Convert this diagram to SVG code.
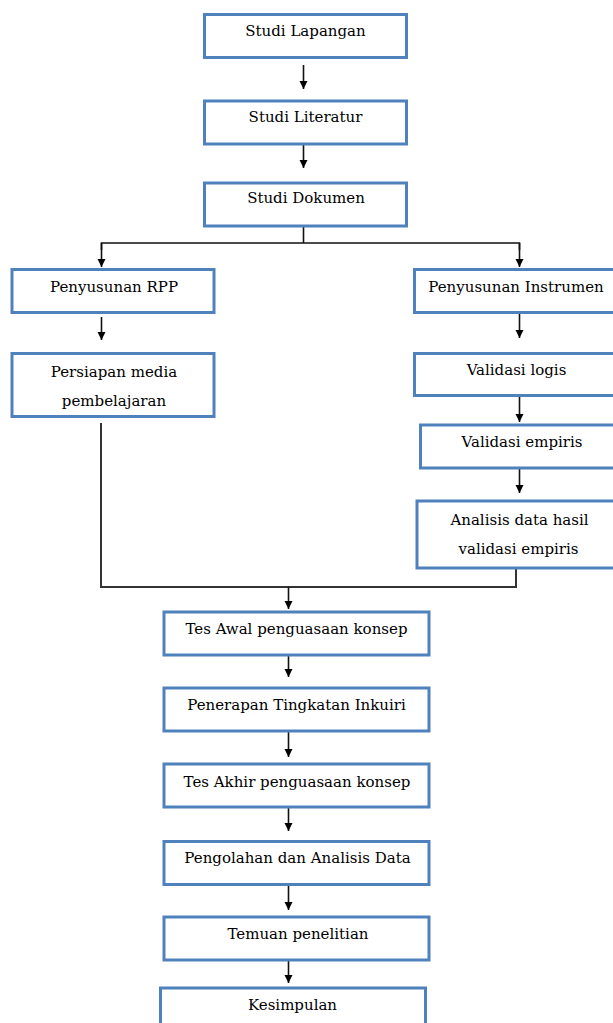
<svg xmlns="http://www.w3.org/2000/svg" width="613" height="1023" viewBox="0 0 613 1023">
<defs>
<style>
.box{fill:#fff;stroke:#4F81BD;stroke-width:3}
.lbl{font-family:"DejaVu Serif",serif;font-size:15px;fill:#000;text-anchor:middle}
.con{fill:none;stroke:#111;stroke-width:1.6}
</style>
<marker id="ah" markerUnits="userSpaceOnUse" markerWidth="8" markerHeight="9" refX="8" refY="4" orient="auto">
<path d="M0,0 L8,4 L0,8 z" fill="#000"/>
</marker>
</defs>
<rect width="613" height="1023" fill="#fff"/>
<g id="connectors">
<line class="con" x1="303.5" y1="65" x2="303.5" y2="89" marker-end="url(#ah)"/>
<line class="con" x1="303.5" y1="145" x2="303.5" y2="168" marker-end="url(#ah)"/>
<polyline class="con" points="303.5,227 303.5,243"/>
<polyline class="con" points="101.5,250 101.5,243 519.5,243 519.5,250"/>
<line class="con" x1="101.5" y1="243" x2="101.5" y2="267" marker-end="url(#ah)"/>
<line class="con" x1="519.5" y1="243" x2="519.5" y2="267" marker-end="url(#ah)"/>
<line class="con" x1="101.5" y1="317" x2="101.5" y2="340" marker-end="url(#ah)"/>
<line class="con" x1="519.5" y1="314" x2="519.5" y2="338" marker-end="url(#ah)"/>
<line class="con" x1="519.5" y1="397" x2="519.5" y2="422" marker-end="url(#ah)"/>
<line class="con" x1="519.5" y1="469" x2="519.5" y2="493" marker-end="url(#ah)"/>
<polyline class="con" style="stroke:#333;stroke-width:2" points="101,423 101,587 516,587 516,569"/>
<line class="con" x1="288.5" y1="587" x2="288.5" y2="609" marker-end="url(#ah)"/>
<line class="con" x1="288.5" y1="656" x2="288.5" y2="677" marker-end="url(#ah)"/>
<line class="con" x1="288.5" y1="732" x2="288.5" y2="757" marker-end="url(#ah)"/>
<line class="con" x1="288.5" y1="808" x2="288.5" y2="831" marker-end="url(#ah)"/>
<line class="con" x1="288.5" y1="886" x2="288.5" y2="910" marker-end="url(#ah)"/>
<line class="con" x1="288.5" y1="961" x2="288.5" y2="983" marker-end="url(#ah)"/>
</g>
<g id="n1"><rect class="box" x="204.5" y="14.5" width="202" height="43"/><text class="lbl" x="305.5" y="36">Studi Lapangan</text></g>
<g id="n2"><rect class="box" x="204.5" y="101" width="202" height="43"/><text class="lbl" x="305.5" y="122">Studi Literatur</text></g>
<g id="n3"><rect class="box" x="204.5" y="183" width="202" height="43"/><text class="lbl" x="306" y="203">Studi Dokumen</text></g>
<g id="n4"><rect class="box" x="12" y="269.5" width="202" height="43"/><text class="lbl" x="114" y="292">Penyusunan RPP</text></g>
<g id="n5"><rect class="box" x="414.5" y="269.5" width="210" height="43"/><text class="lbl" x="516" y="292">Penyusunan Instrumen</text></g>
<g id="n6"><rect class="box" x="12" y="353.5" width="202" height="63"/><text class="lbl" x="114" y="377">Persiapan media</text><text class="lbl" x="114" y="406">pembelajaran</text></g>
<g id="n7"><rect class="box" x="414.5" y="353.5" width="210" height="42"/><text class="lbl" x="516.5" y="375">Validasi logis</text></g>
<g id="n8"><rect class="box" x="420.5" y="425" width="205" height="43"/><text class="lbl" x="522" y="447">Validasi empiris</text></g>
<g id="n9"><rect class="box" x="417" y="501" width="208" height="67"/><text class="lbl" x="519.5" y="525">Analisis data hasil</text><text class="lbl" x="518.5" y="554">validasi empiris</text></g>
<g id="n10"><rect class="box" x="164" y="612" width="265" height="43"/><text class="lbl" x="296.5" y="634">Tes Awal penguasaan konsep</text></g>
<g id="n11"><rect class="box" x="164" y="688" width="265" height="43"/><text class="lbl" x="296.5" y="710">Penerapan Tingkatan Inkuiri</text></g>
<g id="n12"><rect class="box" x="164" y="764" width="265" height="43"/><text class="lbl" x="297" y="787">Tes Akhir penguasaan konsep</text></g>
<g id="n13"><rect class="box" x="164" y="841.5" width="265" height="43"/><text class="lbl" x="297.5" y="863">Pengolahan dan Analisis Data</text></g>
<g id="n14"><rect class="box" x="164" y="917" width="265" height="43"/><text class="lbl" x="298" y="939">Temuan penelitian</text></g>
<g id="n15"><rect class="box" x="160.5" y="988" width="265" height="43"/><text class="lbl" x="292.5" y="1010">Kesimpulan</text></g>
</svg>
